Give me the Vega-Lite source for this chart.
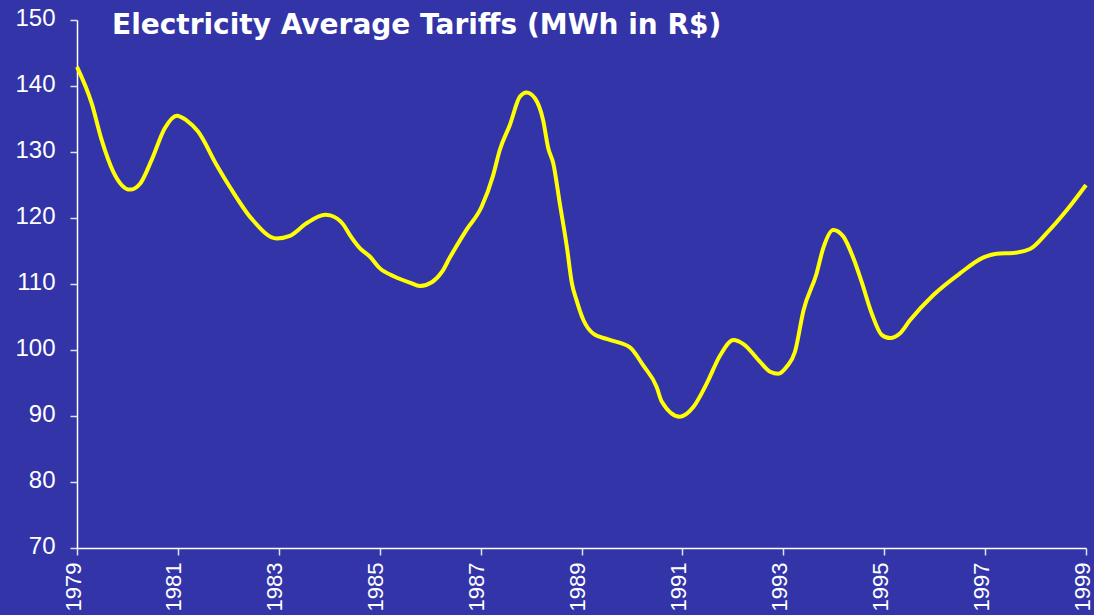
{
  "$schema": "https://vega.github.io/schema/vega-lite/v6.json",
  "autosize": "none",
  "width": 1009,
  "height": 528,
  "padding": {"left": 77, "top": 20, "right": 8, "bottom": 67},
  "background": "#3234a8",
  "title": {
    "text": "Electricity Average Tariffs (MWh in R$)",
    "font": "DejaVu Sans",
    "fontSize": 28,
    "fontWeight": "bold",
    "color": "white",
    "anchor": "start",
    "frame": "group",
    "baseline": "alphabetic",
    "offset": 0,
    "dx": 35,
    "dy": 56
  },
  "data": {
    "values": [
      {"year": 1979.0, "tariff": 142.9},
      {"year": 1979.29, "tariff": 137.4},
      {"year": 1979.49, "tariff": 131.8},
      {"year": 1979.72, "tariff": 127.0},
      {"year": 1980.05, "tariff": 124.3},
      {"year": 1980.25, "tariff": 125.2},
      {"year": 1980.48, "tariff": 128.8},
      {"year": 1980.74, "tariff": 133.6},
      {"year": 1980.98, "tariff": 135.5},
      {"year": 1981.17, "tariff": 134.8},
      {"year": 1981.4, "tariff": 133.1},
      {"year": 1981.77, "tariff": 128.0},
      {"year": 1982.03, "tariff": 124.7},
      {"year": 1982.46, "tariff": 119.9},
      {"year": 1982.96, "tariff": 116.9},
      {"year": 1983.22, "tariff": 117.3},
      {"year": 1983.55, "tariff": 119.2},
      {"year": 1983.92, "tariff": 120.5},
      {"year": 1984.02, "tariff": 120.4},
      {"year": 1984.28, "tariff": 119.0},
      {"year": 1984.41, "tariff": 117.4},
      {"year": 1984.61, "tariff": 115.4},
      {"year": 1984.8, "tariff": 114.2},
      {"year": 1985.0, "tariff": 112.4},
      {"year": 1985.3, "tariff": 111.1},
      {"year": 1985.6, "tariff": 110.2},
      {"year": 1985.8, "tariff": 109.7},
      {"year": 1986.04, "tariff": 110.3},
      {"year": 1986.24, "tariff": 111.9},
      {"year": 1986.39, "tariff": 114.0},
      {"year": 1986.72, "tariff": 118.2},
      {"year": 1987.02, "tariff": 121.7},
      {"year": 1987.25, "tariff": 126.5},
      {"year": 1987.38, "tariff": 130.3},
      {"year": 1987.58, "tariff": 134.1},
      {"year": 1987.78, "tariff": 138.4},
      {"year": 1987.91, "tariff": 139.0},
      {"year": 1988.08, "tariff": 138.1},
      {"year": 1988.24, "tariff": 134.8},
      {"year": 1988.34, "tariff": 130.6},
      {"year": 1988.44, "tariff": 128.3},
      {"year": 1988.57, "tariff": 122.2},
      {"year": 1988.71, "tariff": 115.6},
      {"year": 1988.81, "tariff": 110.1},
      {"year": 1988.9, "tariff": 107.6},
      {"year": 1989.04, "tariff": 104.5},
      {"year": 1989.23, "tariff": 102.5},
      {"year": 1989.53, "tariff": 101.6},
      {"year": 1989.96, "tariff": 100.4},
      {"year": 1990.22, "tariff": 97.7},
      {"year": 1990.49, "tariff": 94.4},
      {"year": 1990.59, "tariff": 92.2},
      {"year": 1990.95, "tariff": 89.9},
      {"year": 1991.22, "tariff": 91.4},
      {"year": 1991.48, "tariff": 94.9},
      {"year": 1991.75, "tariff": 99.2},
      {"year": 1992.01, "tariff": 101.5},
      {"year": 1992.21, "tariff": 100.9},
      {"year": 1992.54, "tariff": 98.2},
      {"year": 1992.74, "tariff": 96.7},
      {"year": 1992.9, "tariff": 96.4},
      {"year": 1993.07, "tariff": 97.5},
      {"year": 1993.23, "tariff": 99.7},
      {"year": 1993.4, "tariff": 106.0},
      {"year": 1993.66, "tariff": 111.6},
      {"year": 1993.79, "tariff": 115.4},
      {"year": 1993.99, "tariff": 118.2},
      {"year": 1994.19, "tariff": 117.2},
      {"year": 1994.39, "tariff": 113.9},
      {"year": 1994.55, "tariff": 110.4},
      {"year": 1994.75, "tariff": 105.6},
      {"year": 1994.95, "tariff": 102.3},
      {"year": 1995.12, "tariff": 101.8},
      {"year": 1995.31, "tariff": 102.5},
      {"year": 1995.51, "tariff": 104.5},
      {"year": 1995.97, "tariff": 108.3},
      {"year": 1996.5, "tariff": 111.6},
      {"year": 1996.96, "tariff": 114.0},
      {"year": 1997.23, "tariff": 114.6},
      {"year": 1997.56, "tariff": 114.7},
      {"year": 1997.89, "tariff": 115.3},
      {"year": 1998.22, "tariff": 117.7},
      {"year": 1998.62, "tariff": 121.2},
      {"year": 1999.0, "tariff": 125.0}
    ]
  },
  "mark": {"type": "line", "color": "#ffff00", "strokeWidth": 4, "interpolate": "monotone", "clip": false},
  "encoding": {
    "x": {
      "field": "year",
      "type": "quantitative",
      "scale": {"domain": [1979, 1999], "nice": false, "zero": false},
      "axis": {
        "title": null,
        "values": [1979, 1981, 1983, 1985, 1987, 1989, 1991, 1993, 1995, 1997, 1999],
        "format": "d",
        "labelAngle": -90,
        "labelAlign": "right",
        "labelBaseline": "alphabetic",
        "labelOffset": 3,
        "labelFont": "Liberation Sans",
        "labelFontSize": 22,
        "labelColor": "white",
        "labelPadding": 7,
        "tickColor": "#e0e0f0",
        "tickSize": 7,
        "tickWidth": 1.5,
        "domainColor": "white",
        "domainWidth": 1.5,
        "grid": false,
        "labelFlush": false,
        "labelOverlap": false
      }
    },
    "y": {
      "field": "tariff",
      "type": "quantitative",
      "scale": {"domain": [70, 150], "nice": false, "zero": false},
      "axis": {
        "title": null,
        "values": [70, 80, 90, 100, 110, 120, 130, 140, 150],
        "labelFont": "Liberation Sans",
        "labelFontSize": 24,
        "labelColor": "white",
        "labelPadding": 15,
        "labelOffset": -2,
        "tickColor": "#e0e0f0",
        "tickSize": 7,
        "tickWidth": 1.5,
        "domainColor": "white",
        "domainWidth": 1.5,
        "grid": false,
        "labelFlush": false,
        "labelOverlap": false
      }
    }
  },
  "config": {"view": {"stroke": null}}
}
